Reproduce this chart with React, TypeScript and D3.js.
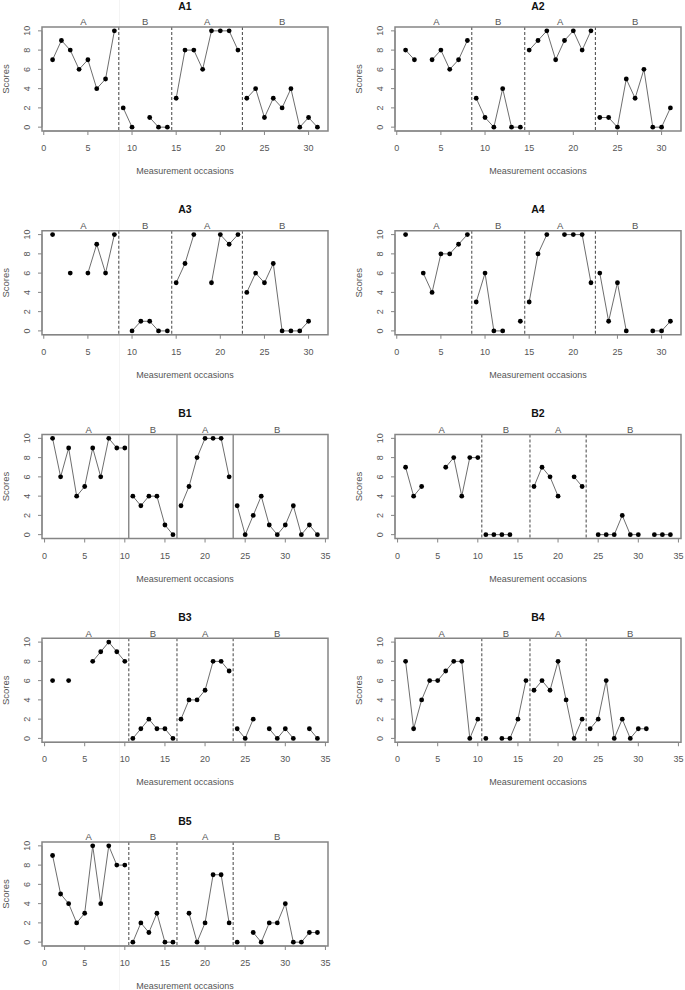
import React from 'react';
import * as d3 from 'd3';

// Phase structure
const phaseLabels = ['A', 'B', 'A', 'B'];
const phaseEndsA = [8, 14, 22, 31];
const phaseEndsB = [10, 16, 23, 34];

// Scores per participant (null = missing measurement)
const scoresA1 = [7, 9, 8, 6, 7, 4, 5, 10, 2, 0, null, 1, 0, 0, 3, 8, 8, 6, 10, 10, 10, 8, 3, 4, 1, 3, 2, 4, 0, 1, 0];
const scoresA2 = [8, 7, null, 7, 8, 6, 7, 9, 3, 1, 0, 4, 0, 0, 8, 9, 10, 7, 9, 10, 8, 10, 1, 1, 0, 5, 3, 6, 0, 0, 2];
const scoresA3 = [10, null, 6, null, 6, 9, 6, 10, null, 0, 1, 1, 0, 0, 5, 7, 10, null, 5, 10, 9, 10, 4, 6, 5, 7, 0, 0, 0, 1, null];
const scoresA4 = [10, null, 6, 4, 8, 8, 9, 10, 3, 6, 0, 0, null, 1, 3, 8, 10, null, 10, 10, 10, 5, 6, 1, 5, 0, null, null, 0, 0, 1];
const scoresB1 = [10, 6, 9, 4, 5, 9, 6, 10, 9, 9, 4, 3, 4, 4, 1, 0, 3, 5, 8, 10, 10, 10, 6, 3, 0, 2, 4, 1, 0, 1, 3, 0, 1, 0];
const scoresB2 = [7, 4, 5, null, null, 7, 8, 4, 8, 8, 0, 0, 0, 0, null, null, 5, 7, 6, 4, null, 6, 5, null, 0, 0, 0, 2, 0, 0, null, 0, 0, 0];
const scoresB3 = [6, null, 6, null, null, 8, 9, 10, 9, 8, 0, 1, 2, 1, 1, 0, 2, 4, 4, 5, 8, 8, 7, 1, 0, 2, null, 1, 0, 1, 0, null, 1, 0];
const scoresB4 = [8, 1, 4, 6, 6, 7, 8, 8, 0, 2, 0, null, 0, 0, 2, 6, 5, 6, 5, 8, 4, 0, 2, 1, 2, 6, 0, 2, 0, 1, 1, null, null, null];
const scoresB5 = [9, 5, 4, 2, 3, 10, 4, 10, 8, 8, 0, 2, 1, 3, 0, 0, null, 3, 0, 2, 7, 7, 2, 0, null, 1, 0, 2, 2, 4, 0, 0, 1, 1];

const panelNames = ['A1', 'A2', 'A3', 'A4', 'B1', 'B2', 'B3', 'B4', 'B5'];
const panelScores = [scoresA1, scoresA2, scoresA3, scoresA4, scoresB1, scoresB2, scoresB3, scoresB4, scoresB5];
const solidPhasePanels = ['B1'];

const yTicks = [0, 2, 4, 6, 8, 10];
const xTicksA = [0, 5, 10, 15, 20, 25, 30];
const xTicksB = [0, 5, 10, 15, 20, 25, 30, 35];
const xTitle = 'Measurement occasions';
const yTitle = 'Scores';

// Layout
const W = 685;
const H = 990;
const COL_LEFT = [42, 395];
const BOX_W = 286;
const ROW_TOP0 = 27;
const ROW_STEP = 203.75;
const BOX_H = 104;
const FONT = "'Liberation Sans', Arial, Helvetica, sans-serif";

type Pt = { t: number; v: number | null };

function Panel({ name, scores, idx }: { name: string; scores: (number | null)[]; idx: number }) {
  const col = idx % 2;
  const row = Math.floor(idx / 2);
  const left = COL_LEFT[col];
  const right = left + BOX_W;
  const top = ROW_TOP0 + row * ROW_STEP;
  const bottom = top + BOX_H;
  const n = scores.length;
  const pad = 0.04 * (n - 1);
  const x = d3.scaleLinear().domain([1 - pad, n + pad]).range([left, right]);
  const y = d3.scaleLinear().domain([-0.4, 10.4]).range([bottom, top]);
  const ends = n === 31 ? phaseEndsA : phaseEndsB;
  const starts = [1, ...ends.slice(0, -1).map((e) => e + 1)];
  const xTicks = n === 31 ? xTicksA : xTicksB;
  const solid = solidPhasePanels.includes(name);
  const pts: Pt[] = scores.map((v, i) => ({ t: i + 1, v }));
  const line = d3
    .line<Pt>()
    .defined((d) => d.v !== null && d.v !== undefined)
    .x((d) => x(d.t))
    .y((d) => y(d.v as number));
  const cx = (left + right) / 2;
  const axisCol = '#858585';
  const textCol = '#555';

  return (
    <g>
      <text x={cx} y={top - 21} dy="0.35em" textAnchor="middle" fontFamily={FONT} fontSize={10.5} fontWeight="bold" fill="#111">
        {name}
      </text>
      {starts.map((s, i) => (
        <text key={'pl' + i} x={x((s + ends[i]) / 2)} y={top - 5} dy="0.35em" textAnchor="middle" fontFamily={FONT} fontSize={9.5} fill={textCol}>
          {phaseLabels[i]}
        </text>
      ))}
      {ends.slice(0, -1).map((e, i) => (
        <line
          key={'ph' + i}
          x1={x(e + 0.5)}
          x2={x(e + 0.5)}
          y1={top}
          y2={bottom}
          stroke={solid ? '#555' : '#444'}
          strokeWidth={1}
          strokeDasharray={solid ? undefined : '3,2'}
        />
      ))}
      {starts.map((s, i) => (
        <path key={'ln' + i} d={line(pts.slice(s - 1, ends[i])) || ''} fill="none" stroke="#6e6e6e" strokeWidth={1} />
      ))}
      {pts
        .filter((d) => d.v !== null && d.v !== undefined)
        .map((d) => (
          <circle key={'pt' + d.t} cx={x(d.t)} cy={y(d.v as number)} r={2.4} fill="#000" />
        ))}
      <rect x={left} y={top} width={right - left} height={bottom - top} fill="none" stroke={axisCol} strokeWidth={1.5} />
      <line x1={left} x2={left} y1={y(0)} y2={y(10)} stroke={axisCol} strokeWidth={1} />
      {yTicks.map((t) => (
        <g key={'yt' + t}>
          <line x1={left - 4} x2={left} y1={y(t)} y2={y(t)} stroke={axisCol} strokeWidth={1} />
          <text
            x={left - 15}
            y={y(t)}
            dy="0.35em"
            transform={`rotate(-90, ${left - 15}, ${y(t)})`}
            textAnchor="middle"
            fontFamily={FONT}
            fontSize={9}
            fill={textCol}
          >
            {t}
          </text>
        </g>
      ))}
      <text
        x={left - 36}
        y={(top + bottom) / 2}
        dy="0.35em"
        transform={`rotate(-90, ${left - 36}, ${(top + bottom) / 2})`}
        textAnchor="middle"
        fontFamily={FONT}
        fontSize={9.5}
        fill={textCol}
      >
        {yTitle}
      </text>
      <line x1={x(xTicks[0])} x2={x(xTicks[xTicks.length - 1])} y1={bottom} y2={bottom} stroke={axisCol} strokeWidth={1} />
      {xTicks.map((t) => (
        <g key={'xt' + t}>
          <line x1={x(t)} x2={x(t)} y1={bottom} y2={bottom + 4} stroke={axisCol} strokeWidth={1} />
          <text x={x(t)} y={top + 121} dy="0.35em" textAnchor="middle" fontFamily={FONT} fontSize={9} fill={textCol}>
            {t}
          </text>
        </g>
      ))}
      <text x={cx} y={top + 144} dy="0.35em" textAnchor="middle" fontFamily={FONT} fontSize={9} fill={textCol}>
        {xTitle}
      </text>
    </g>
  );
}

export default function App() {
  return (
    <svg width={W} height={H} style={{ position: 'absolute', left: 0, top: 0, background: '#fff' }}>
      <rect x={0} y={0} width={W} height={H} fill="#fff" />
      <line x1={119.5} x2={119.5} y1={0} y2={H} stroke="#f4f4f4" strokeWidth={1} />
      {panelNames.map((name, i) => (
        <Panel key={name} name={name} scores={panelScores[i]} idx={i} />
      ))}
    </svg>
  );
}
